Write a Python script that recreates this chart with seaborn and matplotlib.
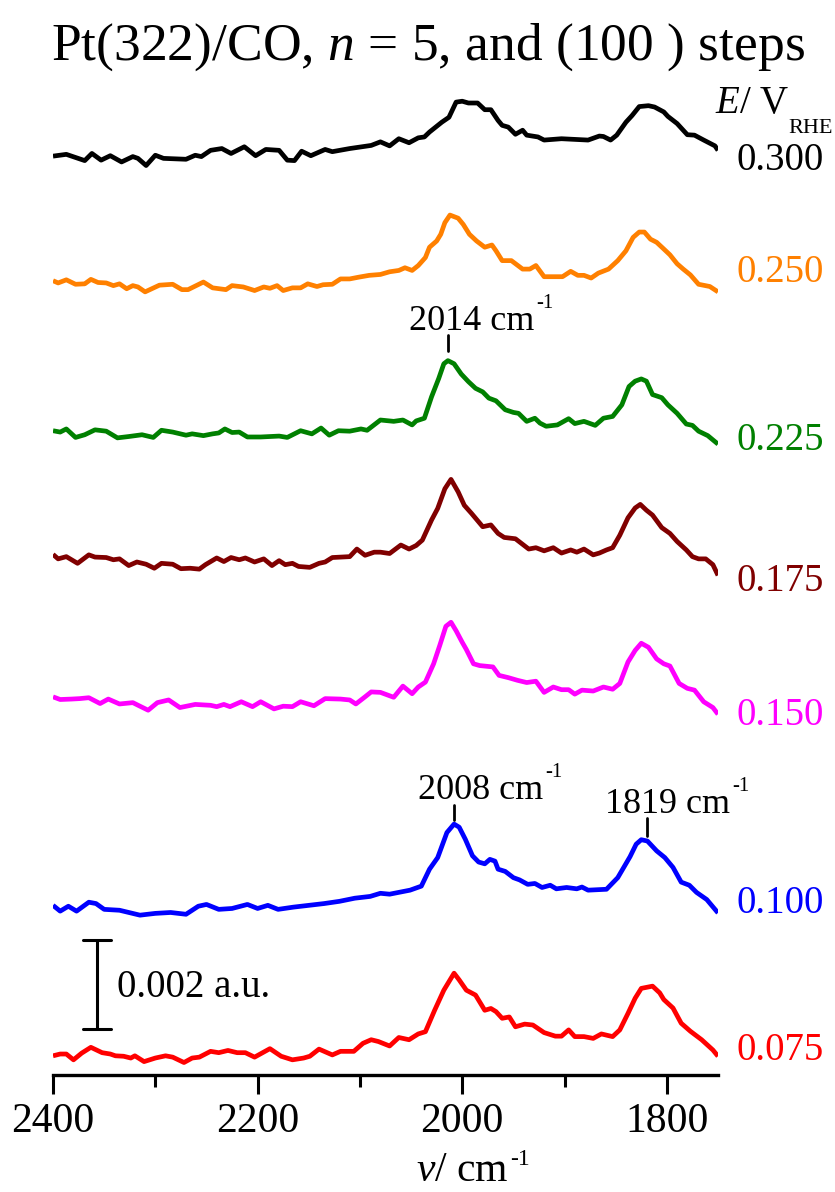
import matplotlib
matplotlib.use("Agg")
import matplotlib.pyplot as plt
import numpy as np
import pandas as pd
import seaborn as sns

# ---- spectra: wavenumber (cm^-1) and absorbance change (10^-3 a.u.) ----
potentials = ["0.300", "0.250", "0.225", "0.175", "0.150", "0.100", "0.075"]
colors = ["#000000", "#FF8000", "#008000", "#800000", "#FF00FF", "#0000FF", "#FF0000"]

wn_300 = [2400, 2387, 2369, 2362, 2353, 2344, 2333, 2322, 2317, 2309,
          2300, 2292, 2270, 2261, 2255, 2246, 2235, 2226, 2213, 2202,
          2192, 2179, 2171, 2164, 2157, 2148, 2134, 2127, 2110, 2095,
          2089, 2080, 2071, 2062, 2052, 2043, 2037, 2032, 2020, 2013,
          2006, 2000, 1994, 1985, 1978, 1972, 1965, 1961, 1955, 1948,
          1941, 1937, 1926, 1920, 1903, 1877, 1866, 1862, 1855, 1849,
          1840, 1834, 1827, 1818, 1812, 1803, 1799, 1790, 1780, 1773,
          1764, 1753, 1750]
a_300 = [0.00, 0.04, -0.10, 0.06, -0.09, 0.01, -0.13, -0.01, -0.05, -0.21,
         0.02, -0.05, -0.07, 0.02, -0.01, 0.13, 0.17, 0.06, 0.21, 0.01,
         0.15, 0.13, -0.09, -0.10, 0.11, 0.01, 0.15, 0.10, 0.17, 0.22,
         0.24, 0.32, 0.23, 0.39, 0.30, 0.41, 0.43, 0.54, 0.76, 0.87,
         1.21, 1.23, 1.19, 1.19, 1.04, 1.04, 0.80, 0.69, 0.65, 0.49,
         0.58, 0.47, 0.43, 0.36, 0.39, 0.36, 0.45, 0.44, 0.36, 0.47,
         0.76, 0.91, 1.11, 1.13, 1.10, 0.99, 0.89, 0.73, 0.48, 0.47,
         0.36, 0.23, 0.13]

wn_250 = [2400, 2395, 2387, 2378, 2369, 2363, 2356, 2348, 2341, 2335,
          2328, 2322, 2317, 2310, 2296, 2283, 2274, 2268, 2253, 2244,
          2231, 2225, 2214, 2203, 2194, 2188, 2181, 2175, 2166, 2158,
          2151, 2142, 2136, 2127, 2119, 2110, 2101, 2091, 2080, 2071,
          2062, 2056, 2049, 2043, 2036, 2032, 2025, 2021, 2017, 2012,
          2004, 1999, 1993, 1986, 1978, 1971, 1967, 1961, 1952, 1941,
          1934, 1928, 1920, 1902, 1894, 1887, 1881, 1874, 1867, 1857,
          1848, 1840, 1833, 1827, 1822, 1816, 1810, 1803, 1797, 1790,
          1784, 1777, 1769, 1758, 1750]
a_250 = [0.01, -0.04, 0.03, -0.07, -0.06, 0.04, -0.03, -0.04, -0.10, -0.06,
         -0.17, -0.10, -0.13, -0.24, -0.09, -0.07, -0.19, -0.19, -0.02, -0.15,
         -0.19, -0.10, -0.13, -0.21, -0.13, -0.16, -0.10, -0.21, -0.15, -0.15,
         -0.06, -0.12, -0.08, -0.07, 0.05, 0.05, 0.09, 0.13, 0.15, 0.21,
         0.24, 0.30, 0.24, 0.35, 0.53, 0.76, 0.90, 1.05, 1.31, 1.48,
         1.41, 1.27, 1.05, 0.90, 0.76, 0.81, 0.68, 0.46, 0.46, 0.27,
         0.27, 0.35, 0.10, 0.10, 0.22, 0.13, 0.13, 0.07, 0.18, 0.27,
         0.46, 0.68, 0.98, 1.10, 1.10, 0.94, 0.87, 0.72, 0.59, 0.39,
         0.27, 0.14, -0.07, -0.12, -0.24]

wn_225 = [2400, 2393, 2387, 2378, 2369, 2359, 2348, 2337, 2326, 2313,
          2302, 2294, 2283, 2270, 2264, 2253, 2244, 2238, 2232, 2225,
          2218, 2210, 2197, 2179, 2171, 2158, 2147, 2138, 2130, 2121,
          2110, 2099, 2093, 2080, 2067, 2058, 2049, 2045, 2037, 2030,
          2023, 2018, 2014, 2008, 2001, 1994, 1987, 1980, 1974, 1967,
          1958, 1950, 1945, 1937, 1929, 1924, 1918, 1907, 1896, 1890,
          1881, 1870, 1862, 1853, 1844, 1837, 1831, 1825, 1820, 1814,
          1805, 1799, 1790, 1781, 1775, 1769, 1760, 1750]
a_225 = [0.00, -0.03, 0.04, -0.15, -0.09, 0.02, -0.01, -0.16, -0.13, -0.09,
         -0.15, 0.01, -0.03, -0.10, -0.07, -0.11, -0.07, -0.05, 0.04, -0.04,
         -0.03, -0.14, -0.14, -0.12, -0.15, 0.00, -0.07, 0.06, -0.10, 0.00,
         -0.01, 0.04, 0.01, 0.24, 0.21, 0.24, 0.13, 0.22, 0.28, 0.76,
         1.17, 1.50, 1.57, 1.50, 1.27, 1.10, 0.95, 0.87, 0.73, 0.67,
         0.47, 0.41, 0.39, 0.21, 0.28, 0.17, 0.10, 0.13, 0.27, 0.16,
         0.21, 0.12, 0.28, 0.32, 0.58, 0.99, 1.11, 1.16, 1.11, 0.81,
         0.74, 0.58, 0.39, 0.15, 0.12, -0.01, -0.11, -0.30]

wn_175 = [2400, 2395, 2387, 2376, 2365, 2359, 2348, 2341, 2335, 2326,
          2318, 2309, 2301, 2294, 2283, 2275, 2266, 2257, 2251, 2240,
          2233, 2226, 2218, 2212, 2203, 2194, 2186, 2179, 2173, 2166,
          2160, 2149, 2140, 2134, 2127, 2110, 2103, 2095, 2086, 2080,
          2071, 2060, 2052, 2045, 2039, 2030, 2024, 2017, 2011, 2004,
          1998, 1991, 1980, 1972, 1965, 1959, 1948, 1935, 1928, 1920,
          1911, 1903, 1894, 1888, 1881, 1872, 1866, 1859, 1853, 1846,
          1838, 1831, 1826, 1820, 1814, 1805, 1797, 1790, 1781, 1775,
          1769, 1762, 1755, 1750]
a_175 = [0.01, -0.09, -0.04, -0.19, 0.00, -0.05, -0.06, -0.11, -0.09, -0.24,
         -0.16, -0.21, -0.30, -0.19, -0.21, -0.31, -0.30, -0.32, -0.22, -0.07,
         -0.15, -0.06, -0.11, -0.07, -0.16, -0.09, -0.24, -0.13, -0.22, -0.19,
         -0.26, -0.28, -0.19, -0.16, -0.06, -0.04, 0.13, -0.01, 0.06, 0.06,
         0.03, 0.22, 0.13, 0.21, 0.33, 0.78, 1.04, 1.48, 1.69, 1.41,
         1.11, 0.93, 0.63, 0.67, 0.48, 0.39, 0.36, 0.13, 0.16, 0.09,
         0.16, 0.04, 0.11, 0.06, 0.13, 0.00, 0.04, 0.11, 0.16, 0.44,
         0.83, 1.05, 1.13, 1.00, 0.89, 0.61, 0.48, 0.30, 0.11, -0.04,
         -0.09, -0.09, -0.22, -0.46]

wn_150 = [2400, 2393, 2382, 2374, 2365, 2354, 2346, 2335, 2322, 2315,
          2307, 2298, 2287, 2276, 2261, 2246, 2240, 2233, 2227, 2216,
          2205, 2197, 2184, 2175, 2166, 2158, 2145, 2134, 2119, 2110,
          2104, 2095, 2089, 2080, 2067, 2058, 2049, 2043, 2036, 2028,
          2022, 2016, 2011, 2006, 2000, 1996, 1989, 1983, 1970, 1964,
          1955, 1946, 1937, 1928, 1920, 1911, 1903, 1896, 1890, 1883,
          1872, 1862, 1853, 1846, 1838, 1831, 1825, 1818, 1810, 1803,
          1797, 1788, 1780, 1773, 1764, 1755, 1750]
a_150 = [0.00, -0.06, -0.05, -0.04, -0.02, -0.15, -0.05, -0.16, -0.13, -0.21,
         -0.30, -0.13, -0.07, -0.24, -0.17, -0.19, -0.22, -0.17, -0.22, -0.11,
         -0.22, -0.11, -0.27, -0.21, -0.22, -0.11, -0.20, -0.04, -0.05, -0.07,
         -0.16, 0.00, 0.11, 0.10, -0.01, 0.24, 0.07, 0.22, 0.33, 0.74,
         1.15, 1.58, 1.67, 1.48, 1.22, 1.06, 0.74, 0.70, 0.67, 0.48,
         0.43, 0.37, 0.32, 0.35, 0.10, 0.22, 0.16, 0.16, 0.06, 0.15,
         0.13, 0.22, 0.17, 0.30, 0.78, 1.04, 1.20, 1.11, 0.85, 0.74,
         0.69, 0.30, 0.19, 0.15, -0.11, -0.24, -0.39]

wn_100 = [2400, 2393, 2385, 2377, 2365, 2358, 2350, 2335, 2315, 2300,
          2285, 2270, 2258, 2250, 2238, 2225, 2210, 2200, 2190, 2180,
          2165, 2150, 2135, 2120, 2105, 2090, 2080, 2071, 2051, 2040,
          2032, 2024, 2015, 2008, 2003, 1997, 1990, 1984, 1978, 1973,
          1968, 1965, 1958, 1950, 1944, 1936, 1929, 1922, 1914, 1908,
          1898, 1888, 1883, 1877, 1859, 1848, 1836, 1830, 1825, 1819,
          1810, 1802, 1794, 1786, 1778, 1771, 1761, 1750]
a_100 = [0.00, -0.13, -0.02, -0.13, 0.07, 0.04, -0.09, -0.11, -0.22, -0.18,
         -0.16, -0.20, -0.02, 0.02, -0.09, -0.07, 0.02, -0.07, 0.00, -0.09,
         -0.04, 0.00, 0.04, 0.09, 0.16, 0.20, 0.27, 0.25, 0.34, 0.43,
         0.81, 1.07, 1.63, 1.82, 1.75, 1.48, 1.11, 0.97, 0.93, 1.03,
         0.99, 0.81, 0.76, 0.62, 0.57, 0.47, 0.49, 0.40, 0.45, 0.37,
         0.40, 0.37, 0.41, 0.34, 0.36, 0.62, 1.09, 1.37, 1.47, 1.44,
         1.22, 1.07, 0.85, 0.52, 0.45, 0.29, 0.13, -0.17]

wn_075 = [2400, 2393, 2387, 2380, 2372, 2363, 2352, 2344, 2339, 2331,
          2324, 2320, 2311, 2300, 2290, 2283, 2272, 2264, 2257, 2246,
          2238, 2229, 2220, 2212, 2203, 2188, 2177, 2166, 2155, 2149,
          2140, 2127, 2119, 2106, 2097, 2089, 2082, 2071, 2062, 2052,
          2043, 2036, 2027, 2018, 2008, 2003, 1996, 1987, 1978, 1972,
          1967, 1961, 1954, 1948, 1939, 1931, 1920, 1909, 1903, 1896,
          1890, 1881, 1872, 1864, 1853, 1846, 1838, 1831, 1825, 1814,
          1807, 1803, 1794, 1786, 1777, 1766, 1755, 1750]
a_075 = [0.00, 0.04, 0.04, -0.09, 0.06, 0.19, 0.07, 0.04, 0.00, -0.01,
         -0.05, 0.00, -0.13, -0.05, 0.00, -0.03, -0.15, -0.05, -0.03, 0.10,
         0.07, 0.12, 0.07, 0.07, -0.03, 0.16, -0.01, -0.09, -0.05, -0.01,
         0.15, 0.02, 0.10, 0.10, 0.28, 0.36, 0.32, 0.22, 0.41, 0.36,
         0.49, 0.54, 1.02, 1.47, 1.85, 1.70, 1.47, 1.36, 1.02, 1.06,
         0.99, 0.84, 0.87, 0.65, 0.71, 0.69, 0.52, 0.44, 0.44, 0.58,
         0.43, 0.43, 0.39, 0.49, 0.43, 0.58, 0.95, 1.29, 1.51, 1.56,
         1.41, 1.26, 1.07, 0.73, 0.55, 0.36, 0.13, -0.01]

wavenumbers = [wn_300, wn_250, wn_225, wn_175, wn_150, wn_100, wn_075]
absorbances = [a_300, a_250, a_225, a_175, a_150, a_100, a_075]

# marked band positions (cm^-1)
peak_labels = [2014, 2008, 1819]
scale_bar = 2.0  # 10^-3 a.u.

x_ticks = [2400, 2200, 2000, 1800]
x_minor = [2300, 2100, 1900]

# ---- layout: vertical stacking of the traces (10^-3 a.u.) ----
offsets = [20.58, 17.78, 14.43, 11.65, 8.47, 3.80, 0.43]
label_y = [20.49, 17.98, 14.20, 11.06, 8.06, 3.85, 0.56]

sns.set_theme(style="white")
plt.rcParams["font.family"] = ["Liberation Serif", "DejaVu Serif"]
plt.rcParams["mathtext.fontset"] = "custom"
plt.rcParams["mathtext.rm"] = "Liberation Serif"
plt.rcParams["mathtext.it"] = "Liberation Serif:italic"
plt.rcParams["mathtext.bf"] = "Liberation Serif:bold"
for key in ["text.color", "axes.labelcolor", "xtick.color", "ytick.color"]:
    plt.rcParams[key] = "black"

frames = []
for pot, wn, ab, off in zip(potentials, wavenumbers, absorbances, offsets):
    frames.append(pd.DataFrame({"wavenumber": wn,
                                "signal": np.asarray(ab) + off,
                                "potential": pot}))
df = pd.concat(frames, ignore_index=True)

fig = plt.figure(figsize=(8.35, 11.92), dpi=100)
ax = fig.add_axes([0.0635, 0.09815, 0.7964, 0.82405])

sns.lineplot(data=df, x="wavenumber", y="signal", hue="potential",
             hue_order=potentials, palette=colors, estimator=None,
             sort=False, legend=False, linewidth=3.4, ax=ax,
             solid_joinstyle="round", solid_capstyle="butt")

ax.set_xlim(2400, 1750)
ax.set_ylim(0, 22)
ax.set_xticks(x_ticks)
ax.set_xticks(x_minor, minor=True)
ax.set_xticklabels([str(t) for t in x_ticks])
ax.set_yticks([])
for side in ["left", "right", "top"]:
    ax.spines[side].set_visible(False)
ax.spines["bottom"].set_linewidth(2.4)
ax.spines["bottom"].set_color("black")
ax.tick_params(axis="x", which="major", direction="out", length=14,
               width=2.2, color="black", labelsize=30, pad=6, bottom=True)
ax.tick_params(axis="x", which="minor", direction="out", length=8.5,
               width=2.2, color="black", bottom=True)
ax.set_xlabel("")
ax.set_ylabel("")


def superscript(base, text, size, dx=1.0, dy=0.0):
    """Small raised text attached to the top-right corner of another text."""
    return ax.annotate(text, xy=(1, 1), xycoords=base, xytext=(dx, dy),
                       textcoords="offset points", ha="left", va="bottom",
                       fontsize=size, annotation_clip=False)


# x-axis title
xl = ax.text(0.615, -0.108, r"$\mathit{v}$/ cm", transform=ax.transAxes,
             ha="center", va="baseline", fontsize=30)
superscript(xl, "-1", 17, dx=1.5, dy=-13)

# potential labels on the right
for pot, col, yy in zip(potentials, colors, label_y):
    ax.text(1731.5, yy, pot, color=col, fontsize=28, ha="left",
            va="center", clip_on=False)
ax.text(1753, 21.55, r"$\mathit{E}$/ V", fontsize=28, ha="left",
        va="baseline", clip_on=False)
ax.text(1681.5, 21.10, "RHE", fontsize=16, ha="left", va="baseline",
        clip_on=False)

# band position markers
marks = [(peak_labels[0], 16.21, 16.57, 2052.0, 16.69),
         (peak_labels[1], 5.71, 6.05, 2043.3, 6.18),
         (peak_labels[2], 5.35, 5.76, 1860.6, 5.87)]
for wn, y0, y1, tx, ty in marks:
    ax.plot([wn, wn], [y0, y1], color="black", lw=2.0, clip_on=False)
    t = ax.text(tx, ty, f"{wn} cm", fontsize=26, ha="left",
                va="baseline", clip_on=False)
    superscript(t, "-1", 15, dx=1.5, dy=-6)

# scale bar
bx, by = 2357, 1.02
ax.plot([bx, bx], [by, by + scale_bar], color="black", lw=2.2)
ax.plot([bx + 14, bx - 14], [by, by], color="black", lw=2.2)
ax.plot([bx + 14, bx - 14], [by + scale_bar, by + scale_bar], color="black", lw=2.2)
ax.text(2337.5, by + scale_bar / 2 - 0.05, f"{scale_bar / 1000:.3f} a.u.",
        fontsize=28, ha="left", va="center")

fig.text(0.061, 0.9497, r"Pt(322)/CO, $\mathit{n}$ = 5, and (100 ) steps",
         fontsize=38.5, ha="left", va="baseline")

fig.savefig("out.png", dpi=100)
